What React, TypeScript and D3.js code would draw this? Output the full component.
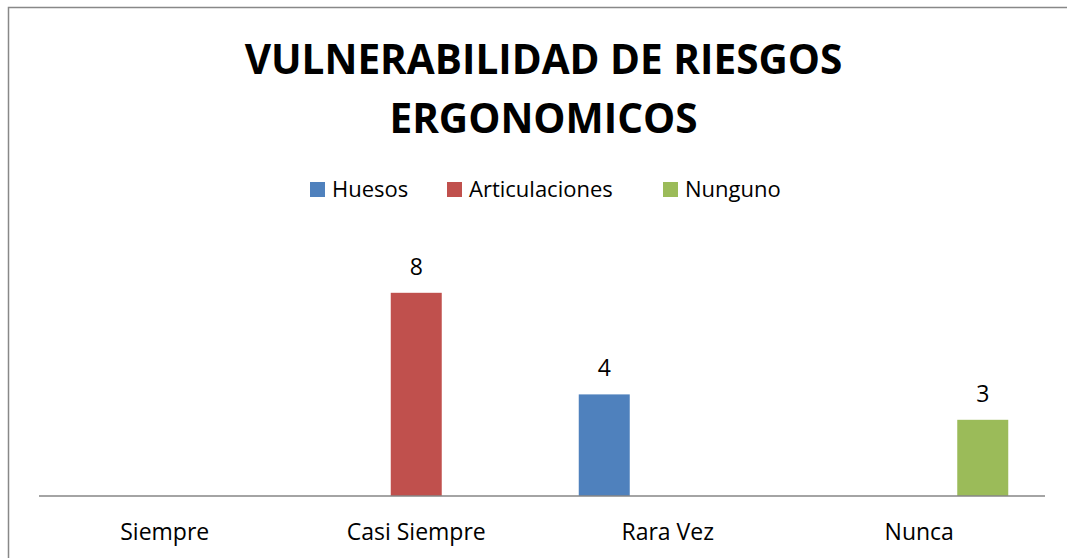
import React from "react";
import * as d3 from "d3";

const categories = ["Siempre", "Casi Siempre", "Rara Vez", "Nunca"];
const seriesNames = ["Huesos", "Articulaciones", "Nunguno"];
const huesos = [0, 0, 4, 0];
const articulaciones = [0, 8, 0, 0];
const nunguno = [0, 0, 0, 3];
const colors = ["#4F81BD", "#C0504D", "#9BBB59"];
const titleLines = ["VULNERABILIDAD DE RIESGOS", "ERGONOMICOS"];

const font = "'Open Sans', sans-serif";

export default function App() {
  const width = 1067;
  const height = 558;
  const plot = { left: 39, right: 1045, top: 242, bottom: 496 };

  const x0 = d3.scaleBand().domain(categories).range([plot.left, plot.right]);
  const x1 = d3
    .scaleBand()
    .domain(seriesNames)
    .range([0, 178])
    .paddingInner(0.197);
  const y = d3.scaleLinear().domain([0, 10]).range([plot.bottom, plot.top]);

  const values = [huesos, articulaciones, nunguno];
  const bars = [];
  seriesNames.forEach((s, si) => {
    values[si].forEach((v, ci) => {
      if (v > 0) bars.push({ s, si, c: categories[ci], v });
    });
  });

  const groupOffset = (x0.bandwidth() - 178) / 2;

  // legend layout
  const legendItems = [
    { name: "Huesos", x: 310 },
    { name: "Articulaciones", x: 447 },
    { name: "Nunguno", x: 663 },
  ];

  return (
    <svg
      width={width}
      height={height}
      style={{ position: "absolute", left: 0, top: 0, background: "#fff" }}
    >
      <rect
        x={8.5}
        y={7.5}
        width={1070}
        height={560}
        fill="#fff"
        stroke="#888"
        strokeWidth={1.5}
      />
      {titleLines.map((t, i) => (
        <text
          key={t}
          x={543.5}
          y={74 + i * 59}
          textAnchor="middle"
          fontFamily={font}
          fontWeight="bold"
          fontSize={40.5}
          fill="#000"
        >
          {t}
        </text>
      ))}
      {legendItems.map((d, i) => (
        <g key={d.name}>
          <rect x={d.x} y={182} width={15} height={15} fill={colors[i]} />
          <text
            x={d.x + 22}
            y={197}
            fontFamily={font}
            fontSize={22}
            fill="#000"
          >
            {d.name}
          </text>
        </g>
      ))}
      {bars.map((b) => {
        const bx = (x0(b.c) ?? 0) + groupOffset + (x1(b.s) ?? 0);
        return (
          <g key={b.s + b.c}>
            <rect
              x={bx}
              y={y(b.v)}
              width={x1.bandwidth()}
              height={plot.bottom - y(b.v)}
              fill={colors[b.si]}
            />
            <text
              x={bx + x1.bandwidth() / 2}
              y={y(b.v) - 18}
              textAnchor="middle"
              fontFamily={font}
              fontSize={23}
              fill="#000"
            >
              {b.v}
            </text>
          </g>
        );
      })}
      <line
        x1={plot.left}
        x2={plot.right}
        y1={plot.bottom}
        y2={plot.bottom}
        stroke="#868686"
        strokeWidth={1.5}
      />
      {categories.map((c) => (
        <text
          key={c}
          x={(x0(c) ?? 0) + x0.bandwidth() / 2}
          y={540}
          textAnchor="middle"
          fontFamily={font}
          fontSize={23}
          fill="#000"
        >
          {c}
        </text>
      ))}
    </svg>
  );
}
